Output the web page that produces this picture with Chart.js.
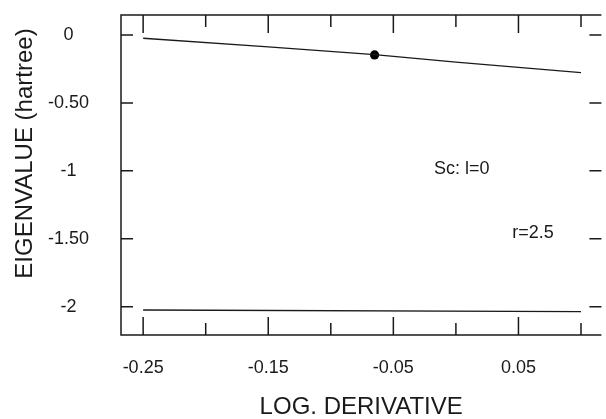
<!DOCTYPE html>
<html>
<head>
<meta charset="utf-8">
<script src="https://cdn.jsdelivr.net/npm/chart.js@4/dist/chart.umd.min.js"></script>
<style>
  html, body { margin: 0; padding: 0; background: #fff; overflow: hidden; }
  #wrap { width: 606px; height: 419px; position: relative; overflow: hidden; }
  canvas { display: block; }
</style>
</head>
<body>
<div id="wrap"><canvas id="c" width="606" height="419"></canvas></div>
<script>
// ---- data ----
const upperX = [-0.25, -0.15, -0.065, 0.0, 0.1];
const upperY = [-0.024, -0.088, -0.145, -0.200, -0.277];
const lowerX = [-0.25, 0.1];
const lowerY = [-2.024, -2.036];
const markX = [-0.065];
const markY = [-0.147];

const xMajorTicks = [-0.25, -0.15, -0.05, 0.05];
const xMajorLabels = ['-0.25', '-0.15', '-0.05', '0.05'];
const xMinorTicks = [-0.2, -0.1, 0.0, 0.1];
const yTicks = [0, -0.5, -1, -1.5, -2];
const yLabels = ['0', '-0.50', '-1', '-1.50', '-2'];

const noteTexts = ['Sc: l=0', 'r=2.5'];
const noteX = [-0.0175, 0.045];
const noteY = [-0.985, -1.456];

const xTitle = 'LOG. DERIVATIVE';
const yTitle = 'EIGENVALUE (hartree)';

const INK = '#1a1a1a';
const FONT = "'Liberation Sans', Arial, Helvetica, sans-serif";

const pts = (xs, ys) => xs.map((x, i) => ({ x: x, y: ys[i] }));

const framePlugin = {
  id: 'frame',
  afterDraw(chart) {
    const { ctx, chartArea: a, scales } = chart;
    const xs = scales.x, ys = scales.y;
    ctx.save();
    ctx.strokeStyle = INK;
    ctx.lineWidth = 1.5;
    ctx.beginPath();
    // frame (right edge falls at the picture's border)
    ctx.moveTo(a.right, a.top); ctx.lineTo(a.left, a.top);
    ctx.lineTo(a.left, a.bottom); ctx.lineTo(a.right, a.bottom);
    yTicks.forEach(v => {
      const p = ys.getPixelForValue(v);
      ctx.moveTo(a.left, p); ctx.lineTo(a.left + 12, p);
      ctx.moveTo(a.right, p); ctx.lineTo(a.right - 12, p);
    });
    xMajorTicks.forEach(v => {
      const p = xs.getPixelForValue(v);
      ctx.moveTo(p, a.top); ctx.lineTo(p, a.top + 18);
      ctx.moveTo(p, a.bottom); ctx.lineTo(p, a.bottom - 18);
    });
    xMinorTicks.forEach(v => {
      const p = xs.getPixelForValue(v);
      ctx.moveTo(p, a.top); ctx.lineTo(p, a.top + 12);
      ctx.moveTo(p, a.bottom); ctx.lineTo(p, a.bottom - 12);
    });
    ctx.stroke();

    // annotations
    ctx.fillStyle = INK;
    ctx.font = '18px ' + FONT;
    ctx.textAlign = 'left';
    ctx.textBaseline = 'middle';
    noteTexts.forEach((t, i) => {
      ctx.fillText(t, xs.getPixelForValue(noteX[i]), ys.getPixelForValue(noteY[i]));
    });

    // y title
    ctx.font = '24px ' + FONT;
    ctx.textAlign = 'center';
    ctx.translate(25, 153.5);
    ctx.rotate(-Math.PI / 2);
    ctx.fillText(yTitle, 0, 0);
    ctx.restore();
  }
};

new Chart(document.getElementById('c'), {
  type: 'scatter',
  data: {
    datasets: [
      { data: pts(upperX, upperY), showLine: true, borderColor: INK, borderWidth: 1.3,
        pointRadius: 0, tension: 0, fill: false },
      { data: pts(lowerX, lowerY), showLine: true, borderColor: INK, borderWidth: 1.3,
        pointRadius: 0, tension: 0, fill: false },
      { data: pts(markX, markY), showLine: false, pointRadius: 4.6,
        pointBackgroundColor: '#000', pointBorderColor: '#000', pointBorderWidth: 0 }
    ]
  },
  options: {
    responsive: false,
    animation: false,
    devicePixelRatio: 1,
    layout: { padding: { top: 15, right: 0, left: 0, bottom: 0 } },
    plugins: { legend: { display: false }, tooltip: { enabled: false } },
    scales: {
      x: {
        type: 'linear',
        min: -0.2677,
        max: 0.1163,
        grid: { display: false },
        border: { display: false },
        afterBuildTicks: s => { s.ticks = xMajorTicks.map(v => ({ value: v })); },
        afterFit: s => { s.height = 84; s.paddingLeft = 0; s.paddingRight = 0; },
        ticks: {
          color: INK,
          font: { family: FONT, size: 18 },
          padding: 14,
          maxRotation: 0,
          autoSkip: false,
          callback: (v) => { const i = xMajorTicks.findIndex(t => Math.abs(t - v) < 1e-9); return i >= 0 ? xMajorLabels[i] : ''; }
        },
        title: {
          display: true, text: xTitle, color: INK,
          font: { family: FONT, size: 24 },
          padding: { top: 0, bottom: -3 }
        }
      },
      y: {
        type: 'linear',
        min: -2.208,
        max: 0.147,
        grid: { display: false },
        border: { display: false },
        afterBuildTicks: s => { s.ticks = yTicks.map(v => ({ value: v })); },
        afterFit: s => { s.width = 121; s.paddingTop = 0; s.paddingBottom = 0; },
        ticks: {
          color: INK,
          font: { family: FONT, size: 18 },
          padding: 24,
          crossAlign: 'center',
          autoSkip: false,
          callback: (v) => { const i = yTicks.findIndex(t => Math.abs(t - v) < 1e-9); return i >= 0 ? yLabels[i] : ''; }
        }
      }
    }
  },
  plugins: [framePlugin]
});
</script>
</body>
</html>
